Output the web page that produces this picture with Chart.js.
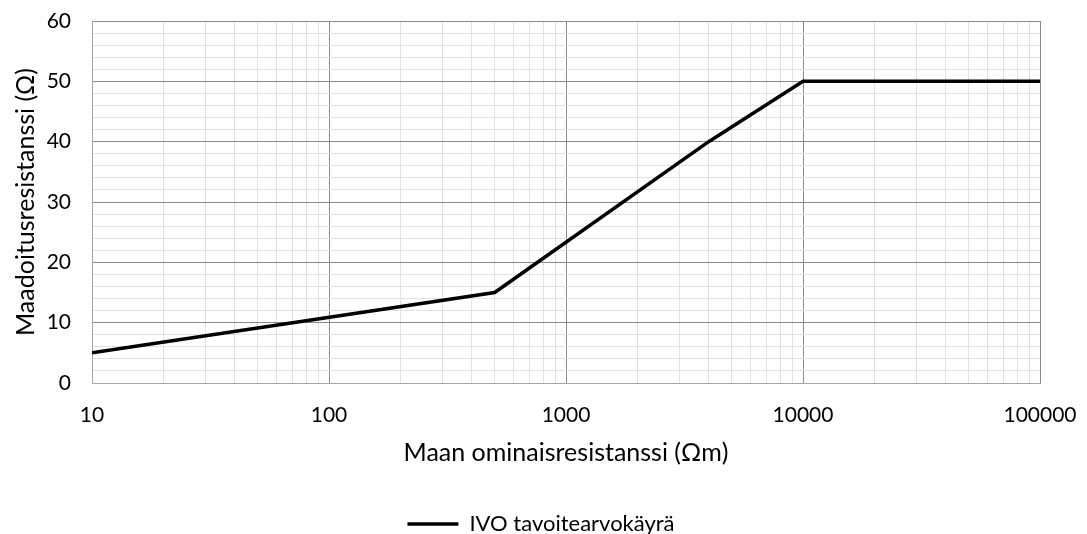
<!DOCTYPE html>
<html>
<head>
<meta charset="utf-8">
<script src="https://cdn.jsdelivr.net/npm/chart.js@4.4.0/dist/chart.umd.min.js"></script>
<style>
  html, body { margin: 0; padding: 0; background: #fff; }
  #wrap { width: 1087px; height: 534px; position: relative; }
</style>
</head>
<body>
<div id="wrap"><canvas id="chart"></canvas></div>
<script>
// data
const resistivity = [10, 500, 4000, 10000, 100000];   // Ωm
const resistance = [5, 15, 40, 50, 50];               // Ω
const xTickLabels = [10, 100, 1000, 10000, 100000];
const yTickLabels = [0, 10, 20, 30, 40, 50, 60];
const seriesName = 'IVO tavoitearvokäyrä';
const xTitle = 'Maan ominaisresistanssi (Ωm)';
const yTitle = 'Maadoitusresistanssi (Ω)';

const FONT = 'Lato';
const MAJOR = '#8a8a8a';
const MINOR = '#e2e2e2';

// 1..9 steps inside each decade for the minor grid
function logGridValues() {
    const vals = [];
    for (let i = 0; i < xTickLabels.length - 1; i++) {
        for (let k = 1; k < 10; k++) vals.push(xTickLabels[i] * k);
    }
    vals.push(xTickLabels[xTickLabels.length - 1]);
    return vals;
}

const points = resistivity.map((x, i) => ({ x: x, y: resistance[i] }));

const chartConfig = {
    type: 'line',
    data: {
        datasets: [{
            label: seriesName,
            data: points,
            borderColor: '#000000',
            backgroundColor: '#000000',
            borderWidth: 3.5,
            pointRadius: 0,
            tension: 0,
            pointStyle: 'line'
        }]
    },
    options: {
        responsive: true,
        maintainAspectRatio: false,
        animation: false,
        // left padding keeps the legend centred like the reference; y scale is narrowed to match
        layout: { padding: { top: 21, right: 47, left: 42, bottom: -11 } },
        scales: {
            x: {
                type: 'logarithmic',
                min: 10,
                max: 100000,
                afterBuildTicks: (scale) => {
                    scale.ticks = logGridValues().map(v => ({ value: v }));
                },
                afterFit: (scale) => { scale.height = 130; },
                border: { display: true, color: '#a6a6a6', width: 1 },
                grid: {
                    drawTicks: true,
                    tickLength: 20,
                    tickColor: 'rgba(0,0,0,0)',
                    color: (ctx) => xTickLabels.includes(ctx.tick && ctx.tick.value) ? MAJOR : MINOR
                },
                ticks: {
                    autoSkip: false,
                    maxRotation: 0,
                    minRotation: 0,
                    padding: 0,
                    color: '#000',
                    font: { family: FONT, size: 21 },
                    callback: (value) => xTickLabels.includes(value) ? String(value) : ''
                },
                title: {
                    display: true,
                    text: xTitle,
                    color: '#000',
                    font: { family: FONT, size: 25 },
                    padding: { top: 0, bottom: 45 }
                }
            },
            y: {
                min: 0,
                max: 60,
                afterFit: (scale) => { scale.width = 50; },
                border: { display: true, color: '#a6a6a6', width: 1 },
                grid: {
                    drawTicks: true,
                    tickLength: 21,
                    tickColor: 'rgba(0,0,0,0)',
                    color: (ctx) => yTickLabels.includes(ctx.tick && ctx.tick.value) ? MAJOR : MINOR
                },
                ticks: {
                    stepSize: 2,
                    autoSkip: false,
                    padding: 0,
                    color: '#000',
                    font: { family: FONT, size: 21 },
                    callback: (value) => yTickLabels.includes(value) ? String(value) : ''
                },
                title: {
                    display: true,
                    text: yTitle,
                    color: '#000',
                    font: { family: FONT, size: 25 },
                    padding: { top: -31, bottom: 0 }
                }
            }
        },
        plugins: {
            legend: {
                display: true,
                position: 'bottom',
                labels: {
                    usePointStyle: true,
                    pointStyleWidth: 51,
                    padding: 0,
                    color: '#000',
                    font: { family: FONT, size: 22 }
                }
            },
            tooltip: { enabled: false }
        }
    }
};

const ctx = document.getElementById('chart').getContext('2d');
new Chart(ctx, chartConfig);
</script>
</body>
</html>
